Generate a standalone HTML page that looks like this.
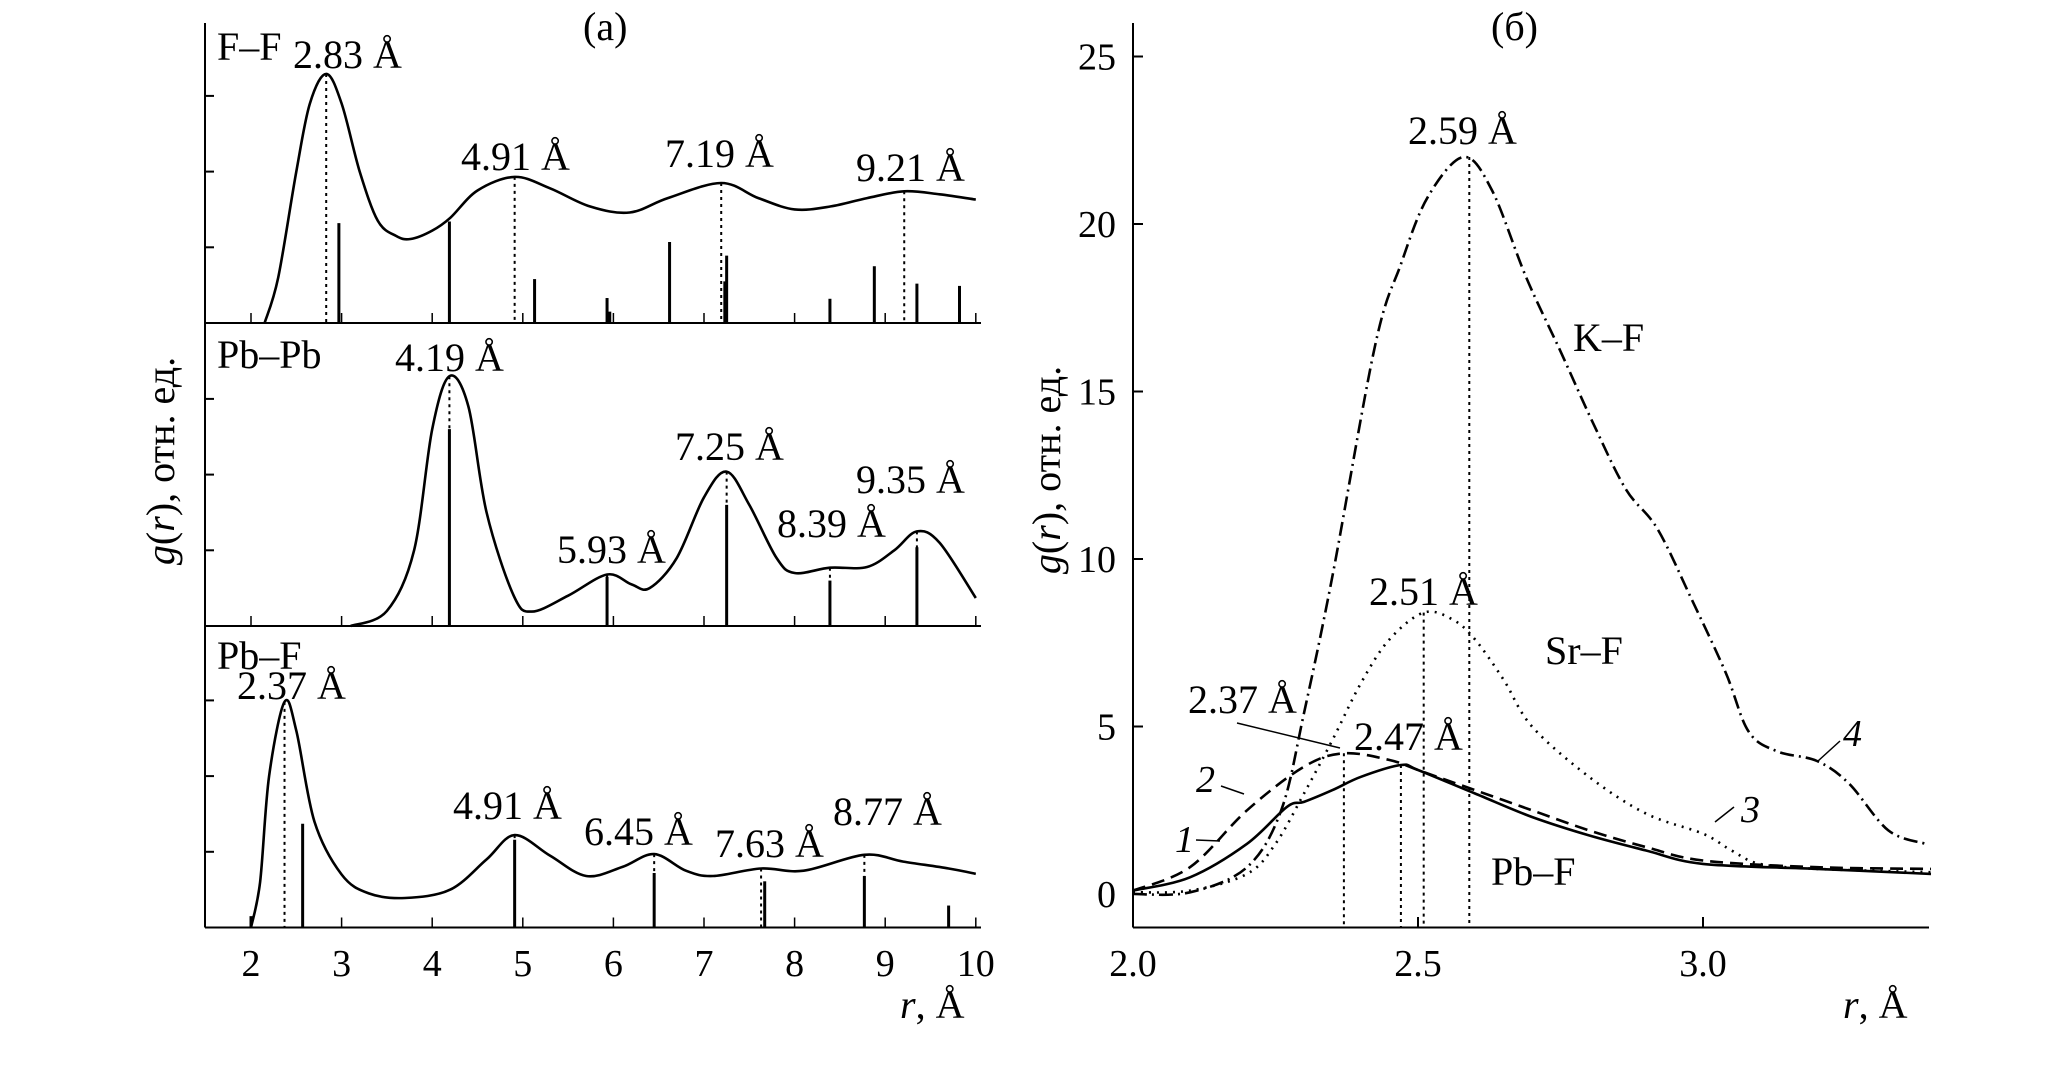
<!DOCTYPE html>
<html><head><meta charset="utf-8">
<style>
html,body{margin:0;padding:0;background:#fff;}
svg{display:block;font-family:"Liberation Serif",serif;}
text{fill:#000;}
</style></head>
<body>
<svg id="chart" width="2067" height="1070" viewBox="0 0 2067 1070" xmlns="http://www.w3.org/2000/svg">
<g id="left"></g>
<g id="right"></g>
</svg>
<script>
// ---------- Panel (a) data ----------
const ffR = [2.15,2.3,2.5,2.65,2.83,3.0,3.2,3.4,3.6,3.76,4.0,4.2,4.5,4.91,5.3,5.74,6.18,6.6,7.19,7.6,8.0,8.4,8.8,9.21,9.6,10];
const ffG = [0,0.6,2.0,2.9,3.29,2.9,2.0,1.35,1.15,1.11,1.22,1.39,1.75,1.93,1.78,1.54,1.46,1.65,1.85,1.65,1.5,1.54,1.65,1.74,1.7,1.63];
const ffStickR = [2.97,4.19,5.13,5.93,5.96,6.62,7.23,7.25,8.39,8.88,9.35,9.82];
const ffStickH = [1.32,1.34,0.58,0.33,0.15,1.07,0.55,0.89,0.32,0.75,0.52,0.49];
const ffPeaks = [2.83,4.91,7.19,9.21];

const ppR = [3.1,3.5,3.8,4.0,4.19,4.4,4.6,4.9,5.1,5.5,5.93,6.2,6.4,6.7,7.0,7.25,7.5,7.8,8.0,8.39,8.8,9.1,9.35,9.6,10];
const ppG = [0,0.2,1.0,2.6,3.3,2.9,1.5,0.4,0.19,0.4,0.68,0.55,0.5,0.9,1.7,2.04,1.6,0.9,0.7,0.77,0.78,1.0,1.25,1.1,0.37];
const ppStickR = [4.19,5.93,7.25,8.39,9.35];
const ppStickH = [2.6,0.65,1.6,0.6,1.04];
const ppPeaks = [4.19,5.93,7.25,8.39,9.35];

const pfR = [2.0,2.1,2.2,2.37,2.5,2.7,3.0,3.3,3.7,4.2,4.6,4.91,5.3,5.7,6.1,6.45,6.8,7.1,7.63,8.1,8.77,9.2,9.7,10];
const pfG = [0,0.6,2.0,2.98,2.6,1.4,0.7,0.45,0.39,0.5,0.9,1.22,0.95,0.68,0.8,0.97,0.75,0.68,0.78,0.75,0.96,0.87,0.78,0.71];
const pfStickR = [2.0,2.57,4.91,6.45,7.67,8.77,9.7];
const pfStickH = [0.15,1.37,1.16,0.72,0.61,0.68,0.29];
const pfPeaks = [2.37,4.91,6.45,7.63,8.77];

const aTicks = [2,3,4,5,6,7,8,9,10];

// ---------- Panel (b) data ----------
const c4R = [2.0,2.1,2.2,2.26,2.3,2.35,2.425,2.47,2.517,2.58,2.63,2.69,2.75,2.806,2.864,2.92,2.98,3.04,3.08,3.13,3.2,3.256,3.325,3.39];
const c4G = [0,0.05,0.8,2.5,5.4,9.5,16.4,18.8,20.8,22.0,21.0,18.4,16.2,14.1,12.1,10.9,8.8,6.6,4.85,4.26,3.97,3.3,1.9,1.5];
const c3R = [2.0,2.1,2.2,2.25,2.3,2.35,2.4,2.45,2.51,2.56,2.6,2.65,2.7,2.8,2.9,3.0,3.05,3.1,3.2,3.4];
const c3G = [0.05,0.1,0.6,1.5,3.0,4.6,6.3,7.6,8.4,8.2,7.6,6.4,5.0,3.5,2.4,1.8,1.3,0.9,0.75,0.65];
const c2R = [2.0,2.1,2.2,2.3,2.37,2.45,2.5,2.6,2.7,2.8,2.9,3.0,3.2,3.4];
const c2G = [0.1,0.8,2.5,3.8,4.2,4.0,3.7,3.1,2.5,1.9,1.4,1.0,0.8,0.75];
const c1R = [2.0,2.1,2.2,2.27,2.3,2.35,2.4,2.47,2.5,2.6,2.7,2.8,2.9,3.0,3.2,3.4];
const c1G = [0.1,0.5,1.5,2.6,2.75,3.1,3.5,3.85,3.7,3.0,2.3,1.75,1.3,0.9,0.75,0.6];
const bPeaks = [2.37,2.47,2.51,2.59];
const bPeakG = [4.2,3.85,8.4,22.0];
const bXTicks = [2.0,2.5,3.0];
const bYTicks = [0,5,10,15,20,25];

const NS = "http://www.w3.org/2000/svg";
const FS = 40, TFS = 38;
function mk(parent, tag, attrs, text){
  const e = document.createElementNS(NS, tag);
  for (const k in attrs) e.setAttribute(k, attrs[k]);
  if (text !== undefined) e.textContent = text;
  parent.appendChild(e);
  return e;
}
function smooth(pts){
  let d = "M" + pts[0][0].toFixed(1) + "," + pts[0][1].toFixed(1);
  for (let i=0;i<pts.length-1;i++){
    const p0 = pts[Math.max(i-1,0)], p1=pts[i], p2=pts[i+1], p3=pts[Math.min(i+2,pts.length-1)];
    const c1x = p1[0]+(p2[0]-p0[0])/6, c1y = p1[1]+(p2[1]-p0[1])/6;
    const c2x = p2[0]-(p3[0]-p1[0])/6, c2y = p2[1]-(p3[1]-p1[1])/6;
    d += " C"+c1x.toFixed(1)+","+c1y.toFixed(1)+" "+c2x.toFixed(1)+","+c2y.toFixed(1)+" "+p2[0].toFixed(1)+","+p2[1].toFixed(1);
  }
  return d;
}
function interp(R,G,r){
  for (let i=0;i<R.length-1;i++) if (r>=R[i] && r<=R[i+1]) return G[i]+(G[i+1]-G[i])*(r-R[i])/(R[i+1]-R[i]);
  return G[G.length-1];
}

// ---------- Panel (a) ----------
const L = document.getElementById('left');
const ax = r => 251 + (r-2)*90.6;
const panels = [
  {name:'ff', base:323, R:ffR, G:ffG, SR:ffStickR, SH:ffStickH, P:ffPeaks},
  {name:'pbpb', base:626, R:ppR, G:ppG, SR:ppStickR, SH:ppStickH, P:ppPeaks},
  {name:'pbf', base:927.5, R:pfR, G:pfG, SR:pfStickR, SH:pfStickH, P:pfPeaks}
];
const unit = 75.7;
mk(L,'line',{x1:205,y1:23,x2:205,y2:927.5,stroke:'#000','stroke-width':2});
panels.forEach((p,pi)=>{
  const ay = u => p.base - u*unit;
  const g = mk(L,'g',{});
  
  
  mk(g,'line',{x1:205,y1:p.base,x2:981,y2:p.base,stroke:'#000','stroke-width':2});
  for (let k=1;k<=3;k++) mk(g,'line',{x1:205,y1:ay(k),x2:214,y2:ay(k),stroke:'#000','stroke-width':2});
  aTicks.forEach(t=>mk(g,'line',{x1:ax(t),y1:p.base,x2:ax(t),y2:p.base-10,stroke:'#000','stroke-width':1.5}));
  p.SR.forEach((r,i)=>{
    const s = mk(g,'line',{x1:ax(r),y1:p.base,x2:ax(r),y2:ay(p.SH[i]),stroke:'#000','stroke-width':3});
    
    
  });
  p.P.forEach(r=>{
    mk(g,'line',{x1:ax(r),y1:ay(interp(p.R,p.G,r)),x2:ax(r),y2:p.base,stroke:'#000','stroke-width':2,'stroke-dasharray':'3 4'});
  });
  const pts = p.R.map((r,i)=>[ax(r),ay(p.G[i])]);
  const c = mk(g,'path',{d:smooth(pts),fill:'none',stroke:'#000','stroke-width':2.6});
  
  
});
aTicks.forEach(t=>{
  const e = mk(L,'text',{x:ax(t),y:976,'font-size':TFS,'text-anchor':'middle'},String(t));
  
  
});
const labelsA = [
  ['F–F',217,60],['2.83 Å',293,68],['4.91 Å',461,170],['7.19 Å',665,167],['9.21 Å',856,181],
  ['Pb–Pb',217,368],['4.19 Å',395,371],['7.25 Å',675,460],['5.93 Å',557,563],['8.39 Å',777,537],['9.35 Å',856,493],
  ['Pb–F',217,669],['2.37 Å',237,699],['4.91 Å',453,819],['6.45 Å',584,845],['7.63 Å',715,857],['8.77 Å',833,825],
  ['(a)',583,40]
];
labelsA.forEach((l,i)=>{
  const e = mk(L,'text',{x:l[1],y:l[2],'font-size':FS},l[0]);
  
  
});
const xa = mk(L,'text',{x:900,y:1018,'font-size':FS},'');
xa.innerHTML = '<tspan font-style="italic">r</tspan>, Å';


const ya = mk(L,'text',{x:0,y:0,'font-size':FS,'text-anchor':'middle',transform:'translate(174,461) rotate(-90)'},'');
ya.innerHTML = '<tspan font-style="italic">g</tspan>(<tspan font-style="italic">r</tspan>), отн. ед.';



// ---------- Panel (b) ----------
const Rg = document.getElementById('right');
const bx = r => 1133 + (r-2)*570;
const by = v => 894 - v*33.5;
mk(Rg,'line',{x1:1133,y1:23,x2:1133,y2:927.5,stroke:'#000','stroke-width':2});
mk(Rg,'line',{x1:1133,y1:927.5,x2:1929,y2:927.5,stroke:'#000','stroke-width':2});
bYTicks.forEach(t=>{
  mk(Rg,'line',{x1:1133,y1:by(t),x2:1143,y2:by(t),stroke:'#000','stroke-width':2});
  const e = mk(Rg,'text',{x:1116,y:by(t)+13,'font-size':TFS,'text-anchor':'end'},String(t));
  
  
});
bXTicks.forEach(t=>{
  mk(Rg,'line',{x1:bx(t),y1:927.5,x2:bx(t),y2:917,stroke:'#000','stroke-width':2});
  const e = mk(Rg,'text',{x:bx(t),y:976,'font-size':TFS,'text-anchor':'middle'},t.toFixed(1));
  
  
});
bPeaks.forEach((r,i)=>{
  mk(Rg,'line',{x1:bx(r),y1:by(bPeakG[i]),x2:bx(r),y2:927.5,stroke:'#000','stroke-width':2,'stroke-dasharray':'3 4'});
});
const series = [
  ['curve-4-kf',c4R,c4G,'14 5 2 5'],
  ['curve-3-srf',c3R,c3G,'2 6'],
  ['curve-2',c2R,c2G,'13 7'],
  ['curve-1-pbf',c1R,c1G,'']
];
series.forEach(s=>{
  const pts = s[1].map((r,i)=>[bx(r),by(s[2][i])]);
  const p = mk(Rg,'path',{d:smooth(pts),fill:'none',stroke:'#000','stroke-width':2.6});
  if (s[3]) p.setAttribute('stroke-dasharray', s[3]);
  
  
});
const labelsB = [
  ['2.59 Å',1408,144],['2.51 Å',1369,605],['2.37 Å',1188,713],['2.47 Å',1354,750],
  ['K–F',1573,351],['Sr–F',1545,664],['Pb–F',1491,885],['(б)',1491,40]
];
labelsB.forEach((l,i)=>{
  const e = mk(Rg,'text',{x:l[1],y:l[2],'font-size':FS},l[0]);
  
  
});
[['4',1843,746],['3',1741,822],['2',1196,792],['1',1175,852]].forEach(l=>{
  const e = mk(Rg,'text',{x:l[1],y:l[2],'font-size':38,'font-style':'italic'},l[0]);
  
  
});
[[1237,723,1340,748],[1221,786,1244,794],[1196,840,1220,841],[1734,807,1715,822],[1840,741,1818,761]].forEach(s=>{
  mk(Rg,'line',{x1:s[0],y1:s[1],x2:s[2],y2:s[3],stroke:'#000','stroke-width':1.5});
});
const xb = mk(Rg,'text',{x:1843,y:1018,'font-size':FS},'');
xb.innerHTML = '<tspan font-style="italic">r</tspan>, Å';


const yb = mk(Rg,'text',{x:0,y:0,'font-size':FS,'text-anchor':'middle',transform:'translate(1060,470) rotate(-90)'},'');
yb.innerHTML = '<tspan font-style="italic">g</tspan>(<tspan font-style="italic">r</tspan>), отн. ед.';


</script>
</body></html>
